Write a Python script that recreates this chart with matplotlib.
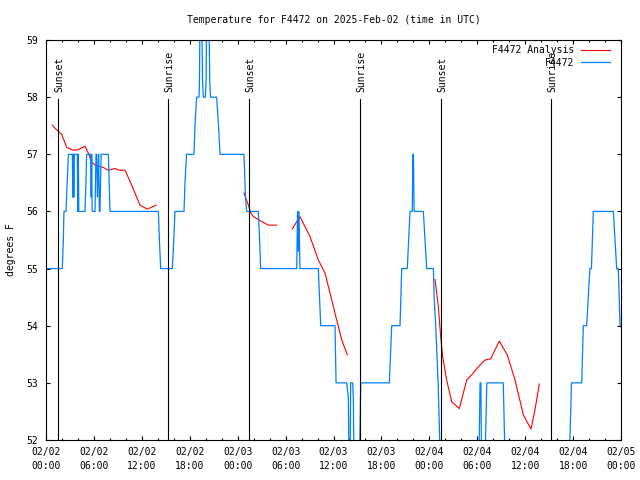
import numpy as np
import matplotlib
matplotlib.use("Agg")
import matplotlib.pyplot as plt
from matplotlib.ticker import MultipleLocator
import matplotlib.transforms as mtransforms

plt.rcParams["font.family"] = "DejaVu Sans Mono"
plt.rcParams["font.size"] = 7

# --- data (hours since 2025-02-02 00:00 UTC) ---
obs_h = [0.0, 2.04, 2.17, 2.25, 2.5, 2.65, 2.8, 3.3, 3.36, 3.42, 3.48, 3.55,
         3.92, 3.98, 4.05, 4.11, 4.88, 5.0, 5.09, 5.59, 5.66, 5.72, 5.78,
         6.14, 6.26, 6.36, 6.43, 6.6, 6.68, 6.76, 6.9, 7.81, 8.01, 14.07,
         14.2, 14.36, 15.82, 16.0, 16.15, 17.28, 17.4, 17.6, 18.53, 18.65,
         18.87, 19.16, 19.22, 19.28, 19.5, 19.6, 19.7, 19.95, 20.05, 20.12,
         20.4, 20.5, 20.6, 21.37, 21.6, 21.79, 24.79, 24.98, 25.13, 26.58,
         26.75, 26.88, 31.39, 31.5, 31.6, 31.68, 31.8, 34.1, 34.25, 34.4,
         36.19, 36.32, 37.65, 37.86, 37.94, 38.07, 38.15, 38.4, 38.49, 38.57,
         39.24, 39.41, 42.99, 43.29, 44.33, 44.54, 45.24, 45.58, 45.87, 45.93,
         46.0, 46.1, 47.25, 47.67, 48.51, 48.6, 48.8, 48.95, 49.1, 49.3, 49.4,
         54.2, 54.35, 54.45, 54.55, 54.95, 55.2, 57.26, 57.5, 65.5, 65.8,
         67.08, 67.28, 67.7, 68.1, 68.3, 68.53, 71.04, 71.46, 71.66, 71.88]
obs_t = [55, 55, 55.5, 56, 56, 56.5, 57, 57, 56.25, 57, 56.25, 57,
         57, 56, 57, 56, 56, 56.5, 57, 57, 56.25, 57, 56,
         56, 57, 57, 56.25, 57, 56, 56, 57, 57, 56, 56,
         55.5, 55, 55, 55.5, 56, 56, 56.5, 57, 57, 57.5,
         58, 58, 58.3, 59.5, 59.5, 58.3, 58, 58, 58.3, 59.5,
         59.5, 58.3, 58, 58, 57.5, 57, 57, 56.25, 56, 56,
         55.5, 55, 55, 56, 55.3, 56, 55, 55, 54.5, 54,
         54, 53, 53, 52.74, 51.5, 51.5, 53, 53, 52.7, 51.5,
         51.5, 53, 53, 54, 54, 55, 55, 56, 56, 57,
         57, 56, 56, 55, 55, 54.5, 54, 53.5, 53, 52, 51.5,
         51.5, 53, 53, 51.5, 51.5, 53, 53, 51.5, 51.5, 53,
         53, 54, 54, 55, 55, 56, 56, 55, 55, 54]

ana_h = [0.79, 1.3, 1.96, 2.6, 3.4, 4.0, 4.6, 4.88, 5.3, 5.7, 6.14, 7.18, 7.8,
         8.64, 9.26, 9.9, 10.73, 11.77, 12.69, 13.77, np.nan,
         24.79, 25.34, 25.63, 25.96, 26.8, 27.84, 28.89, np.nan,
         30.84, 31.39, 31.8, 33.06, 34.1, 34.94, 35.56, 36.4, 37.03, 37.73,
         np.nan,
         48.71, 49.13, 49.42, 49.67, 50.17, 50.8, 51.75, 52.68, 53.3, 54.13,
         54.97, 55.68, 56.76, 57.76, 58.73, 59.77, 60.73, 61.23, 61.77]
ana_t = [57.51, 57.43, 57.35, 57.12, 57.07, 57.08, 57.12, 57.14, 57.02, 56.87,
         56.81, 56.77, 56.72, 56.75, 56.72, 56.72, 56.46, 56.11, 56.04, 56.11,
         np.nan,
         56.32, 56.11, 55.98, 55.91, 55.84, 55.76, 55.76, np.nan,
         55.69, 55.82, 55.91, 55.56, 55.15, 54.92, 54.57, 54.10, 53.75, 53.49,
         np.nan,
         54.81, 54.33, 53.81, 53.46, 53.05, 52.67, 52.55, 53.05, 53.14, 53.28,
         53.40, 53.42, 53.73, 53.49, 53.05, 52.44, 52.19, 52.53, 52.98]

sun_h = [1.53, 15.3, 25.47, 39.35, 49.5, 63.28]
sun_lbl = ["Sunset", "Sunrise", "Sunset", "Sunrise", "Sunset", "Sunrise"]

xtick_h = [0, 6, 12, 18, 24, 30, 36, 42, 48, 54, 60, 66, 72]
xtick_lbl = ["02/02\n00:00", "02/02\n06:00", "02/02\n12:00", "02/02\n18:00",
             "02/03\n00:00", "02/03\n06:00", "02/03\n12:00", "02/03\n18:00",
             "02/04\n00:00", "02/04\n06:00", "02/04\n12:00", "02/04\n18:00",
             "02/05\n00:00"]

fig = plt.figure(figsize=(6.4, 4.8), dpi=100)
ax = fig.add_axes([46 / 640, 40 / 480, 575 / 640, 400 / 480])

ax.plot(ana_h, ana_t, color="#ff0000", lw=0.8, label="F4472 Analysis")
ax.plot(obs_h, obs_t, color="#0080ff", lw=0.9, label="F4472")

trans = mtransforms.blended_transform_factory(ax.transData, ax.transAxes)
for h, lbl in zip(sun_h, sun_lbl):
    ax.plot([h, h], [0, 0.8525], color="black", lw=0.8, transform=trans)
    ax.text(h + 0.1, 0.87, lbl, transform=trans, rotation=90,
            ha="center", va="bottom", fontsize=7)

ax.set_xlim(0, 72)
ax.set_ylim(52, 59)
ax.set_xticks(xtick_h)
ax.set_xticklabels(xtick_lbl, linespacing=1.45)
ax.xaxis.set_minor_locator(MultipleLocator(2))
ax.yaxis.set_major_locator(MultipleLocator(1))
ax.tick_params(which="both", direction="in", top=True, right=True, width=0.8)
ax.tick_params(which="major", length=3.2)
ax.tick_params(which="minor", length=1.6)
ax.tick_params(axis="x", pad=5)
ax.tick_params(axis="y", pad=6)
for sp in ax.spines.values():
    sp.set_linewidth(0.8)

ax.set_ylabel("degrees F", fontsize=7)
ax.yaxis.set_label_coords(-0.052, 0.475)

fig.text(333.5 / 640, 1 - 20 / 480,
         "Temperature for F4472 on 2025-Feb-02 (time in UTC)",
         ha="center", va="center", fontsize=7)

ax.legend(loc="upper right", bbox_to_anchor=(0.986, 0.995), borderaxespad=0,
          borderpad=0.3, frameon=False, markerfirst=False, handlelength=3.0,
          handletextpad=0.7, labelspacing=0.28, fontsize=7)

fig.savefig("out.png", dpi=100)
